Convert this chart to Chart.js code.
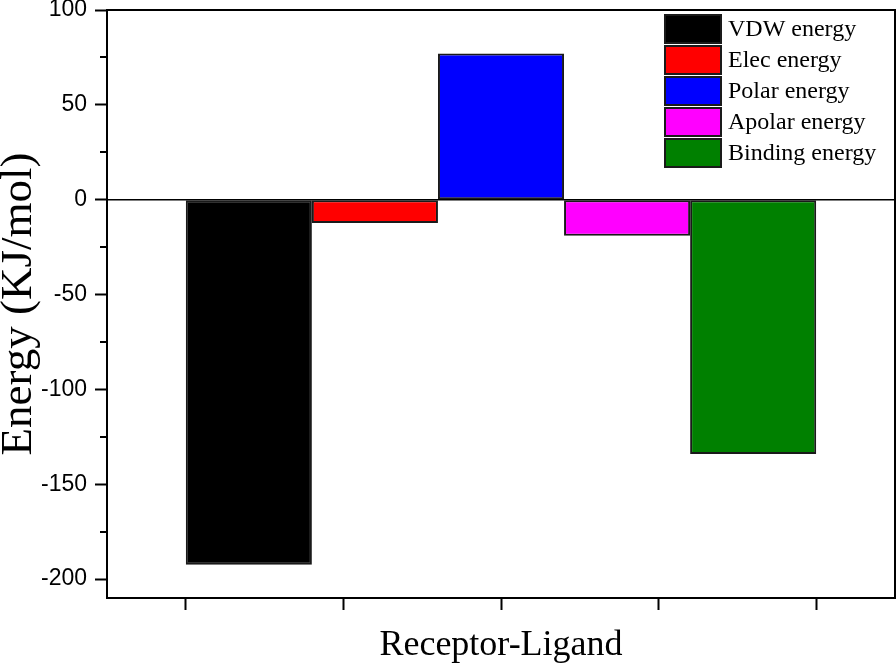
<!DOCTYPE html>
<html>
<head>
<meta charset="utf-8">
<script src="https://cdn.jsdelivr.net/npm/chart.js@4/dist/chart.umd.min.js"></script>
<style>
  html, body { margin: 0; padding: 0; background: #ffffff; }
  #wrap { width: 896px; height: 664px; position: relative; }
</style>
</head>
<body>
<div id="wrap"><canvas id="c" width="896" height="664"></canvas></div>
<script>
// ---- data ----
const categories = ["Receptor-Ligand"];
const seriesLabels = ["VDW energy", "Elec energy", "Polar energy", "Apolar energy", "Binding energy"];
const seriesValues = [-192.5, -12.3, 77.1, -19.0, -134.1];
const seriesColors = ["#000000", "#ff0000", "#0000ff", "#ff00ff", "#008000"];
const yMajorTicks = [-200, -150, -100, -50, 0, 50, 100];
const yMinorTicks = [-175, -125, -75, -25, 25, 75];
const xTickFractions = [0.1, 0.3, 0.5, 0.7, 0.9];

const datasets = seriesLabels.map((lab, i) => ({
  label: lab,
  data: [seriesValues[i]],
  backgroundColor: seriesColors[i],
  borderColor: "#1a1a1a",
  borderWidth: 2,
  borderSkipped: false,
  categoryPercentage: 0.8,
  barPercentage: 1.0,
  xAxisID: "x",
  yAxisID: "y"
}));

// plot frame + minor ticks + legend
const framePlugin = {
  id: "frame",
  beforeDatasetsDraw(chart) {
    const ctx = chart.ctx, ca = chart.chartArea, y = chart.scales.y;
    ctx.save();
    ctx.strokeStyle = "#000";
    ctx.lineWidth = 1.5;
    const p0 = y.getPixelForValue(0);
    ctx.beginPath();
    ctx.moveTo(ca.left, p0);
    ctx.lineTo(ca.right, p0);
    ctx.stroke();
    ctx.restore();
  },
  afterDraw(chart) {
    const ctx = chart.ctx, ca = chart.chartArea, y = chart.scales.y;
    ctx.save();
    ctx.strokeStyle = "#000";
    ctx.lineWidth = 2;
    ctx.strokeRect(ca.left, ca.top, ca.right - ca.left, ca.bottom - ca.top);
    // minor ticks
    ctx.lineWidth = 2;
    yMinorTicks.forEach(v => {
      const p = Math.round(y.getPixelForValue(v));
      ctx.beginPath();
      ctx.moveTo(ca.left - 7, p);
      ctx.lineTo(ca.left, p);
      ctx.stroke();
    });
    // legend inside plot area (top-right)
    const bx = ca.right - 230, by = ca.top + 5, bw = 56, bh = 28, pitch = 31;
    ctx.font = "24px 'Liberation Serif', 'Times New Roman', serif";
    ctx.textBaseline = "middle";
    ctx.textAlign = "left";
    chart.data.datasets.forEach((ds, i) => {
      const top = by + i * pitch;
      ctx.fillStyle = ds.backgroundColor;
      ctx.fillRect(bx, top, bw, bh);
      ctx.strokeStyle = "#1a1a1a";
      ctx.lineWidth = 2;
      ctx.strokeRect(bx, top, bw, bh);
      ctx.fillStyle = "#000";
      ctx.fillText(ds.label, bx + bw + 7, top + bh / 2 + 1);
    });
    ctx.restore();
  }
};

new Chart(document.getElementById("c"), {
  type: "bar",
  data: { labels: categories, datasets: datasets },
  options: {
    responsive: false,
    animation: false,
    events: [],
    layout: { padding: { top: 10, right: 1, left: 0, bottom: 0 } },
    plugins: { legend: { display: false }, tooltip: { enabled: false } },
    scales: {
      x: { display: false, offset: true },
      x2: {
        type: "linear",
        position: "bottom",
        min: 0, max: 1,
        offset: false,
        afterBuildTicks(scale) { scale.ticks = xTickFractions.map(v => ({ value: v })); },
        afterFit(scale) { scale.height = 66; scale.paddingLeft = 0; scale.paddingRight = 0; },
        border: { display: false },
        grid: { offset: false, drawOnChartArea: false, drawTicks: true, tickLength: 12, tickColor: "#000", tickWidth: 2 },
        ticks: { display: false },
        title: {
          display: true,
          text: "Receptor-Ligand",
          color: "#000",
          font: { family: "'Liberation Serif', 'Times New Roman', serif", size: 36 },
          padding: { top: 0, bottom: -3 }
        }
      },
      y: {
        min: -210, max: 100,
        afterBuildTicks(scale) { scale.ticks = yMajorTicks.map(v => ({ value: v })); },
        afterFit(scale) { scale.width = 107; scale.paddingTop = 0; scale.paddingBottom = 0; },
        border: { display: false },
        grid: { drawOnChartArea: false, drawTicks: true, tickLength: 12, tickColor: "#000", tickWidth: 2 },
        ticks: {
          color: "#000",
          padding: 8,
          font: { family: "'Liberation Sans', Arial, sans-serif", size: 23 }
        },
        title: {
          display: true,
          text: "Energy (KJ/mol)",
          color: "#000",
          font: { family: "'Liberation Serif', 'Times New Roman', serif", size: 45, lineHeight: 0.86 },
          padding: { top: 0, bottom: 0 }
        }
      }
    }
  },
  plugins: [framePlugin]
});
</script>
</body>
</html>
